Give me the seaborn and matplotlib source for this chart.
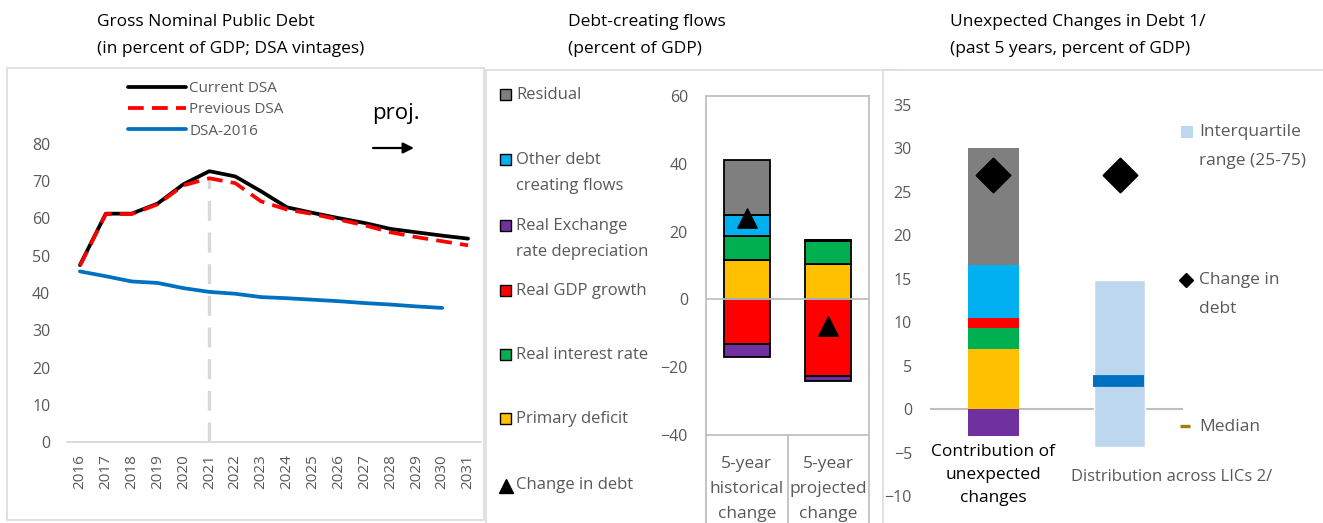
import numpy as np
import pandas as pd
import seaborn as sns
import matplotlib.pyplot as plt
from matplotlib.patches import Rectangle

# ---------------- data ----------------
years = list(range(2016, 2032))
current_dsa = [47.5, 61.3, 61.3, 64.0, 69.2, 72.7, 71.3, 67.3, 63.0, 61.5, 60.1, 58.8, 57.2, 56.3, 55.4, 54.6]
previous_dsa = [47.3, 61.2, 61.2, 63.8, 68.9, 70.8, 69.5, 64.6, 62.4, 61.2, 59.7, 58.2, 56.3, 55.0, 53.9, 52.8]
dsa_2016 = [45.8, 44.5, 43.1, 42.7, 41.3, 40.3, 39.8, 38.9, 38.6, 38.2, 37.8, 37.3, 36.9, 36.4, 36.0, np.nan]
proj_start_year = 2021

flow_categories = ["5-year\nhistorical\nchange", "5-year\nprojected\nchange"]
flow_primary_deficit = [11.5, 10.5]
flow_real_interest = [7.3, 6.8]
flow_other = [6.2, 0.3]
flow_residual = [16.0, 0.0]
flow_real_gdp = [-13.2, -22.7]
flow_rer = [-3.8, -1.5]
flow_change_in_debt = [24.0, -7.8]

unexp_categories = ["Contribution of\nunexpected\nchanges", "Distribution across LICs 2/"]
unexp_primary_deficit = [6.9]
unexp_real_interest = [2.45]
unexp_real_gdp = [1.15]
unexp_other = [6.1]
unexp_residual = [13.4]
unexp_rer = [-3.1]
unexp_change_in_debt = [26.9, 26.9]
lic_q25 = [-4.4]
lic_q75 = [14.9]
lic_median = [3.25]

# ---------------- style ----------------
C_RES, C_OTHER, C_RER = "#7F7F7F", "#00B0F0", "#7030A0"
C_GDP, C_INT, C_PD = "#FF0000", "#00B050", "#FFC000"
C_IQR, C_MED, C_MED_KEY = "#BDD7EE", "#0070C0", "#A08000"
GREY_TXT = "#595959"
FRAME = "#D9D9D9"

sns.set_theme(style="white")
plt.rcParams["font.family"] = ["Open Sans", "DejaVu Sans"]

W, H = 1323, 523
fig = plt.figure(figsize=(W / 100, H / 100), dpi=100)


def fx(px):
    return px / W


def fy(py):
    return 1 - py / H


def add_axes_px(left, top, right, bottom, **kw):
    return fig.add_axes([fx(left), fy(bottom), (right - left) / W, (bottom - top) / H], **kw)


# background layer in pixel coordinates: panel frames, titles, legend keys
bg = fig.add_axes([0, 0, 1, 1], zorder=0)
bg.set_xlim(0, W)
bg.set_ylim(H, 0)
bg.axis("off")
for (l, t, r, b) in [(7, 68, 484, 520), (486, 70, 897, 530), (883, 70, 1330, 530)]:
    bg.add_patch(Rectangle((l, t), r - l, b - t, facecolor="white", edgecolor=FRAME, lw=1.1))

for x0, l1, l2 in [(97, "Gross Nominal Public Debt", "(in percent of GDP; DSA vintages)"),
                   (568, "Debt-creating flows", "(percent of GDP)"),
                   (950, "Unexpected Changes in Debt 1/", "(past 5 years, percent of GDP)")]:
    bg.text(x0, 22, l1, fontsize=12.5, va="center", ha="left", color="black")
    bg.text(x0, 49, l2, fontsize=12.5, va="center", ha="left", color="black")


def stacked(ax, x, layers, width, edgecolor=None, lw=0.0):
    x = np.asarray(x, float)
    pos = np.zeros(len(x))
    neg = np.zeros(len(x))
    for vals, color in layers:
        vals = np.asarray(vals, float)
        bottom = np.where(vals >= 0, pos, neg)
        ax.bar(x, vals, width, bottom=bottom, color=color,
               edgecolor=edgecolor if edgecolor else color, linewidth=lw, zorder=2)
        pos = pos + np.clip(vals, 0, None)
        neg = neg + np.clip(vals, None, 0)


# ---------------- panel 1: debt vintages ----------------
ax1 = add_axes_px(67, 144, 481, 442, zorder=1)
ax1.patch.set_alpha(0)
debt = pd.DataFrame({"year": years, "Current DSA": current_dsa,
                     "Previous DSA": previous_dsa, "DSA-2016": dsa_2016})
long = debt.melt("year", var_name="series", value_name="debt").dropna()

ax1.plot([proj_start_year, proj_start_year], [0, 71], color=FRAME, lw=2.4,
         ls=(0, (6, 3.5)), zorder=1)
sns.lineplot(data=long[long.series == "DSA-2016"], x="year", y="debt", color="#0070C0",
             lw=2.7, ax=ax1, label="DSA-2016", zorder=3)
sns.lineplot(data=long[long.series == "Current DSA"], x="year", y="debt", color="black",
             lw=2.7, ax=ax1, label="Current DSA", zorder=4)
sns.lineplot(data=long[long.series == "Previous DSA"], x="year", y="debt", color="#FF0000",
             lw=2.7, ls=(0, (4.2, 2.2)), ax=ax1, label="Previous DSA", zorder=5)

handles, labels = ax1.get_legend_handles_labels()
order = [labels.index(n) for n in ["Current DSA", "Previous DSA", "DSA-2016"]]
leg = ax1.legend([handles[i] for i in order], [labels[i] for i in order],
                 loc="upper left", bbox_to_anchor=(fx(128), fy(81)), bbox_transform=fig.transFigure,
                 frameon=False, fontsize=11, handlelength=3.8, handletextpad=0.2,
                 labelspacing=0.42, borderpad=0, borderaxespad=0)
for t in leg.get_texts():
    t.set_color(GREY_TXT)

ax1.set_xlim(2015.5, 2031.5)
ax1.set_ylim(0, 80)
ax1.set_xticks(years)
ax1.set_xticklabels([str(y) for y in years], rotation=90)
ax1.set_yticks(range(0, 81, 10))
ax1.set_xlabel("")
ax1.set_ylabel("")
for s in ["top", "right", "left"]:
    ax1.spines[s].set_visible(False)
ax1.spines["bottom"].set_color(FRAME)
ax1.spines["bottom"].set_linewidth(1.3)
ax1.tick_params(axis="y", length=0, pad=12, labelsize=11.5, labelcolor=GREY_TXT)
ax1.tick_params(axis="x", length=0, pad=9, labelsize=11, labelcolor=GREY_TXT)

bg.text(372, 114, "proj.", fontsize=16, ha="left", va="center", color="black")
bg.annotate("", xy=(414, 148), xytext=(373, 148),
            arrowprops=dict(arrowstyle="-|>", color="black", lw=1.6, mutation_scale=16,
                            shrinkA=0, shrinkB=0))

# ---------------- panel 2: debt-creating flows ----------------
ax2 = add_axes_px(706, 96, 869, 435, zorder=1)
ax2.patch.set_alpha(0)
stacked(ax2, [0, 1], [(flow_primary_deficit, C_PD), (flow_real_interest, C_INT),
                      (flow_other, C_OTHER), (flow_residual, C_RES),
                      (flow_real_gdp, C_GDP), (flow_rer, C_RER)],
        width=0.565, edgecolor="black", lw=1.3)
sns.scatterplot(x=[0, 1], y=flow_change_in_debt, marker="^", s=190, color="black",
                edgecolor="black", ax=ax2, zorder=4, legend=False)
ax2.axhline(0, color="#BFBFBF", lw=1.3, zorder=3)
ax2.set_xlim(-0.5, 1.5)
ax2.set_ylim(-40, 60)
ax2.set_yticks(range(-40, 61, 20))
ax2.set_xticks([0, 1])
ax2.set_xticklabels(flow_categories, linespacing=1.75)
for s in ax2.spines.values():
    s.set_color("#BFBFBF")
    s.set_linewidth(1.3)
ax2.tick_params(axis="y", length=0, pad=13, labelsize=11.5, labelcolor=GREY_TXT)
ax2.tick_params(axis="x", length=0, pad=15, labelsize=12.5, labelcolor=GREY_TXT)
for xa in [0, 0.5, 1]:
    ax2.plot([xa, xa], [0, -0.35], transform=ax2.transAxes, color="#BFBFBF", lw=1.3,
             clip_on=False)

# legend column for the flows
flow_keys = [(95, C_RES, ["Residual"]),
             (160, C_OTHER, ["Other debt", "creating flows"]),
             (226, C_RER, ["Real Exchange", "rate depreciation"]),
             (291, C_GDP, ["Real GDP growth"]),
             (355, C_INT, ["Real interest rate"]),
             (419, C_PD, ["Primary deficit"])]
for yk, col, lines in flow_keys:
    bg.add_patch(Rectangle((500, yk - 6), 11, 11, facecolor=col, edgecolor="black", lw=1.0))
    for i, ln in enumerate(lines):
        bg.text(516, yk + i * 26, ln, fontsize=12, va="center", ha="left", color=GREY_TXT)
bg.plot([505.5], [486], marker="^", ms=10, color="black", ls="none")
bg.text(516, 485, "Change in debt", fontsize=12, va="center", ha="left", color=GREY_TXT)

# ---------------- panel 3: unexpected changes ----------------
ax3 = add_axes_px(930, 105, 1183, 496, zorder=1)
ax3.patch.set_alpha(0)
stacked(ax3, [0], [(unexp_primary_deficit, C_PD), (unexp_real_interest, C_INT),
                   (unexp_real_gdp, C_GDP), (unexp_other, C_OTHER), (unexp_residual, C_RES),
                   (unexp_rer, C_RER)], width=0.40)
ax3.bar([1], np.subtract(lic_q75, lic_q25), 0.40, bottom=lic_q25, color=C_IQR, zorder=2)
ax3.hlines(lic_median, 1 - 0.215, 1 + 0.195, color=C_MED, lw=8.5, zorder=3)
sns.scatterplot(x=[0, 1], y=unexp_change_in_debt, marker="D", s=300, color="black",
                edgecolor="black", ax=ax3, zorder=4, legend=False)
ax3.axhline(0, color="#BFBFBF", lw=1.5, zorder=1)
ax3.set_xlim(-0.5, 1.5)
ax3.set_ylim(-10, 35)
ax3.set_yticks(range(-10, 36, 5))
ax3.set_xticks([])
for s in ax3.spines.values():
    s.set_visible(False)
ax3.tick_params(axis="y", length=0, pad=13, labelsize=11.5, labelcolor=GREY_TXT)
ax3.text(0, -7.6, unexp_categories[0], fontsize=12.5, ha="center", va="center",
         color="black", linespacing=1.6)
ax3.text(1.41, -7.8, unexp_categories[1], fontsize=12, ha="center", va="center",
         color=GREY_TXT)

# legend column for the distribution
bg.add_patch(Rectangle((1181, 126), 12, 12, facecolor=C_IQR, edgecolor="none"))
bg.text(1199, 132, "Interquartile", fontsize=12.5, va="center", ha="left", color=GREY_TXT)
bg.text(1199, 161, "range (25-75)", fontsize=12.5, va="center", ha="left", color=GREY_TXT)
bg.plot([1185.5], [280], marker="D", ms=7.5, color="black", ls="none")
bg.text(1199, 280, "Change in", fontsize=12.5, va="center", ha="left", color=GREY_TXT)
bg.text(1199, 309, "debt", fontsize=12.5, va="center", ha="left", color=GREY_TXT)
bg.plot([1180, 1190], [426, 426], color=C_MED_KEY, lw=2.4, solid_capstyle="butt")
bg.text(1199, 427, "Median", fontsize=12.5, va="center", ha="left", color=GREY_TXT)

fig.savefig("out.png", dpi=100)
